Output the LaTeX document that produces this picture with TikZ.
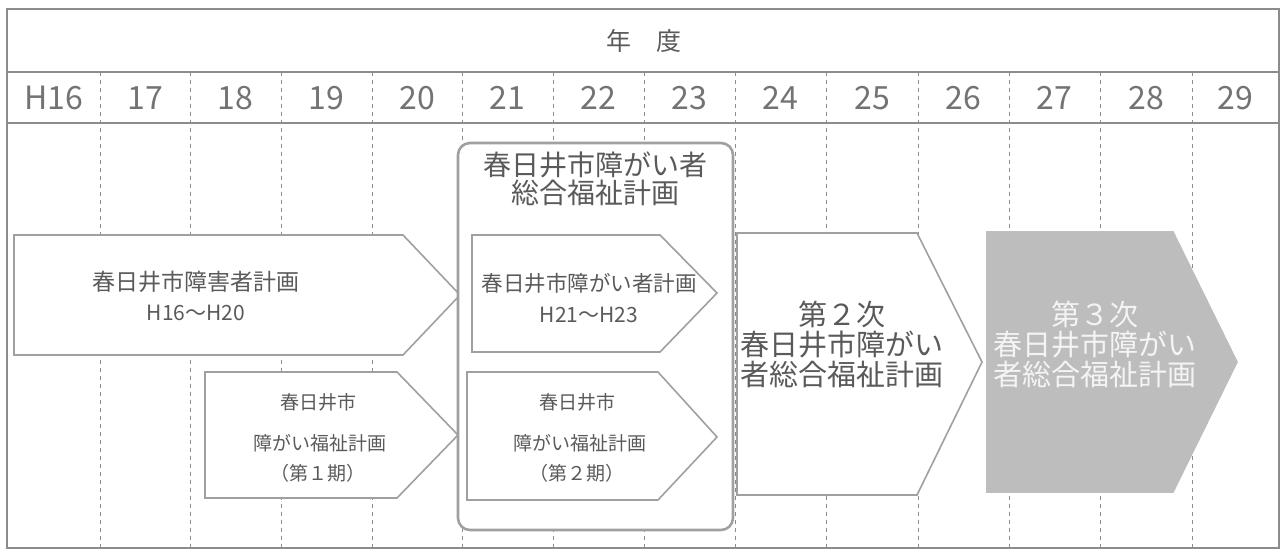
\documentclass[tikz,border=0pt]{standalone}
\usepackage{fontspec}
\setmainfont{Noto Sans CJK JP}
\definecolor{linegray}{HTML}{8C8C8C}
\definecolor{arrowgray}{HTML}{A0A0A0}
\definecolor{textgray}{HTML}{5A5A5A}
\definecolor{fillgray}{HTML}{BDBDBD}
\definecolor{lighttext}{HTML}{F4F4F4}
\begin{document}
\begin{tikzpicture}[x=1pt,y=-1pt,
  frame/.style={draw=linegray, line width=1.1pt},
  gridline/.style={draw=linegray, dash pattern=on 4pt off 4pt, line width=0.9pt},
  plan/.style={draw=arrowgray, fill=white, line width=1.6pt, line join=miter},
  planfill/.style={draw=fillgray, fill=fillgray, line width=1.6pt, line join=miter},
  groupbox/.style={draw=arrowgray, fill=white, line width=2.6pt, rounded corners=12pt},
  txt/.style={text=textgray, inner sep=0pt, align=center},
  yeartxt/.style={txt, text=textgray!85, font=\fontsize{32}{33}\selectfont},
]
\useasboundingbox (0,0) rectangle (1284,553);
% outer frame and rows
\draw[frame] (7,9) rectangle (1279,548);
\draw[frame] (7,72) -- (1279,72);
\draw[frame] (7,123) -- (1279,123);
% dashed column lines
\foreach \x in {100,190,281,372,462,553,644,735,826,918,1009,1100,1192}
  \draw[gridline] (\x,72) -- (\x,548);
% header
\node[txt, font=\fontsize{25}{26}\selectfont] (hdr) at (644,41) {年　度};
% year labels
\foreach \a/\b/\t [count=\i] in {7/100/H16,100/190/17,190/281/18,281/372/19,372/462/20,462/553/21,553/644/22,644/735/23,735/826/24,826/918/25,918/1009/26,1009/1100/27,1100/1192/28,1192/1279/29}
  \node[yeartxt] (yr\i) at ({(\a+\b)/2},98) {\t};
% plan 1
\draw[plan] (14,235) -- (403,235) -- (460,295) -- (403,355) -- (14,355) -- cycle;
\node[txt, font=\fontsize{23}{24}\selectfont] (p1a) at (196,282) {春日井市障害者計画};
\node[txt, font=\fontsize{21}{22}\selectfont] (p1b) at (196,313) {H16～H20};
% plan 2 (第1期)
\draw[plan] (205,372) -- (397,372) -- (458,435) -- (397,498) -- (205,498) -- cycle;
\node[txt, font=\fontsize{19}{20}\selectfont] (p2a) at (318,402) {春日井市};
\node[txt, font=\fontsize{19}{20}\selectfont] (p2b) at (320,443) {障がい福祉計画};
\node[txt, font=\fontsize{19}{20}\selectfont] (p2c) at (318,473) {（第１期）};
% group box
\draw[groupbox] (458,143) rectangle (733,530);
\node[txt, font=\fontsize{28}{28}\selectfont] (gt) at (595,179) {春日井市障がい者\\総合福祉計画};
% plan 3
\draw[plan] (472,235) -- (660,235) -- (717,293) -- (660,352) -- (472,352) -- cycle;
\node[txt, font=\fontsize{21.5}{22}\selectfont] (p3a) at (589,283) {春日井市障がい者計画};
\node[txt, font=\fontsize{21}{22}\selectfont] (p3b) at (589,315) {H21～H23};
% plan 4 (第2期)
\draw[plan] (467,372) -- (658,372) -- (717,437) -- (658,500) -- (467,500) -- cycle;
\node[txt, font=\fontsize{19}{20}\selectfont] (p4a) at (577,402) {春日井市};
\node[txt, font=\fontsize{19}{20}\selectfont] (p4b) at (580,443) {障がい福祉計画};
\node[txt, font=\fontsize{19}{20}\selectfont] (p4c) at (577,473) {（第２期）};
% plan 5 (第2次)
\draw[plan] (737,233) -- (917,233) -- (982,362) -- (917,495) -- (737,495) -- cycle;
\node[txt, font=\fontsize{29}{30}\selectfont] (p5) at (842,344) {第２次\\春日井市障がい\\者総合福祉計画};
% plan 6 (第3次)
\draw[planfill] (987,232) -- (1173,232) -- (1237,362) -- (1173,492) -- (987,492) -- cycle;
\node[txt, text=lighttext, font=\fontsize{29}{30}\selectfont] (p6) at (1095,344) {第３次\\春日井市障がい\\者総合福祉計画};
\end{tikzpicture}
\end{document}
